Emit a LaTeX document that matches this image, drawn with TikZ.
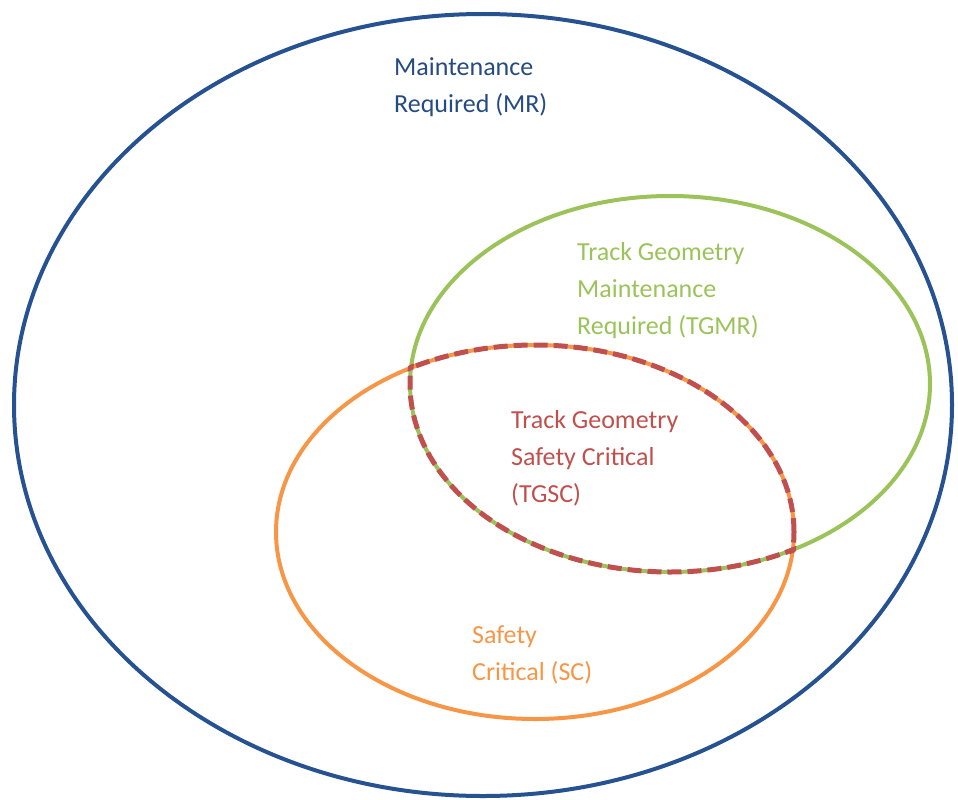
\documentclass[tikz,border=0pt]{standalone}
\usepackage{fontspec}
\setmainfont{Carlito}
\definecolor{mrblue}{RGB}{38,82,146}
\definecolor{mrtext}{RGB}{38,74,130}
\definecolor{tggreen}{RGB}{155,195,90}
\definecolor{scorange}{RGB}{247,150,70}
\definecolor{tgred}{RGB}{192,80,77}
\tikzset{
	setlabel/.style={anchor=base west, align=left, inner sep=0pt, font=\fontsize{26}{37}\selectfont},
	tgscline/.style={tgred, line width=5pt, dash pattern=on 14pt off 6pt}
}
\begin{document}
\begin{tikzpicture}[x=1pt, y=-1pt]
	\useasboundingbox (0,0) rectangle (958,800);
	% outer set
	\draw[mrblue, line width=4pt] (483,405) ellipse [x radius=469pt, y radius=391pt];
	\node[setlabel, text=mrtext] (mr) at (394,112) {Maintenance\\Required (MR)};
	% the two inner sets
	\draw[tggreen, line width=4pt] (670,384) ellipse [x radius=260pt, y radius=188pt];
	\draw[scorange, line width=4pt] (535,532) ellipse [x radius=259pt, y radius=187pt];
	\node[setlabel, text=tggreen] (tgmr) at (577,334) {Track Geometry\\Maintenance\\Required (TGMR)};
	\node[setlabel, text=scorange] (sc) at (472,680) {Safety\\Critical (SC)};
	% overlap, dashed
	\begin{scope}
		\clip (535,532) ellipse [x radius=262pt, y radius=190pt];
		\draw[tgscline] (670,384) ellipse [x radius=260pt, y radius=188pt];
	\end{scope}
	\begin{scope}
		\clip (670,384) ellipse [x radius=263pt, y radius=191pt];
		\draw[tgscline] (535,532) ellipse [x radius=259pt, y radius=187pt];
	\end{scope}
	\node[setlabel, text=tgred] (tgsc) at (511,502) {Track Geometry\\Safety Critical\\(TGSC)};
\end{tikzpicture}
\end{document}
